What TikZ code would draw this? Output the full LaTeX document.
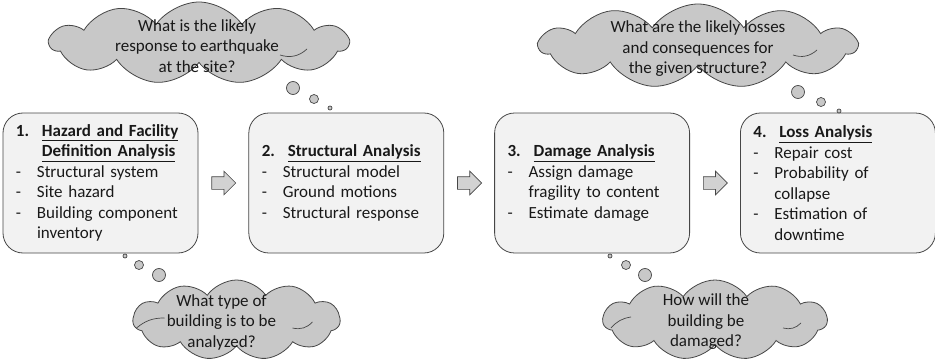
\documentclass[tikz,border=0pt]{standalone}
\usepackage{fontspec}
\setmainfont{Carlito}
\usepackage{tikz}
\usetikzlibrary{shapes.symbols,shapes.arrows,positioning}

\definecolor{boxfill}{RGB}{242,242,242}
\definecolor{cloudfill}{RGB}{200,200,200}
\definecolor{edgegray}{RGB}{70,70,70}
\definecolor{arrowfill}{RGB}{210,210,210}
\definecolor{inkgray}{RGB}{25,25,25}

% heading and list lines inside the stage boxes
\newcommand{\stagehead}[2]{\makebox[26pt][l]{\textbf{#1}}\underline{\textbf{#2}}}
\newcommand{\stagecont}[1]{\hspace*{26pt}\underline{\textbf{#1}}}
\newcommand{\dashitem}[1]{\makebox[21pt][l]{-}#1}
\newcommand{\dashcont}[1]{\hspace*{21pt}#1}

\begin{document}
\begin{tikzpicture}[
        x=1pt, y=-1pt,
        node distance=50pt,
        font=\fontsize{17}{20.5}\selectfont, text=inkgray,
        stage/.style={rectangle, rounded corners=20pt, draw=edgegray, fill=boxfill, line width=0.8pt, minimum width=195pt, minimum height=140pt, text width=169pt, inner xsep=13pt, align=left},
        thought/.style={cloud, cloud puffs=11, cloud puff arc=110, cloud ignores aspect, draw=edgegray, fill=cloudfill, line width=0.8pt, inner sep=0pt},
        qtext/.style={align=center, text=inkgray},
        fold/.style={draw=edgegray, line width=0.7pt},
        bubble/.style={circle, draw=edgegray, fill=cloudfill, line width=0.7pt, inner sep=0pt},
        flow/.style={single arrow, draw=edgegray, fill=arrowfill, line width=0.7pt, minimum height=24pt, single arrow head extend=5.5pt, inner sep=6pt}
    ]
        \useasboundingbox (0,0) rectangle (935,361);

        \node[stage] (hazard) at (100.5,183) {\stagehead{1.}{Hazard and Facility}\\ \stagecont{Definition Analysis}\\ \dashitem{Structural system}\\ \dashitem{Site hazard}\\ \dashitem{Building component}\\ \dashcont{inventory}};
        \node[stage, right=of hazard] (structural) {\stagehead{2.}{Structural Analysis}\\ \dashitem{Structural model}\\ \dashitem{Ground motions}\\ \dashitem{Structural response}};
        \node[stage, right=of structural] (damage) {\stagehead{3.}{Damage Analysis}\\ \dashitem{Assign damage}\\ \dashcont{fragility to content}\\ \dashitem{Estimate damage}};
        \node[stage, right=of damage] (loss) {\stagehead{4.}{Loss Analysis}\\ \dashitem{Repair cost}\\ \dashitem{Probability of}\\ \dashcont{collapse}\\ \dashitem{Estimation of}\\ \dashcont{downtime}};

        \node[flow, right=13pt of hazard] (go1) {};
        \node[flow, right=13pt of structural] (go2) {};
        \node[flow, right=13pt of damage] (go3) {};

        \node[thought, minimum width=298pt, minimum height=82pt, label={[qtext, xshift=-2pt, yshift=-3pt]center:What is the likely\\response to earthquake\\at the site?}] (qsite) at (199,43) {};
        \node[thought, minimum width=317pt, minimum height=84pt, label={[qtext, yshift=-3pt]center:What are the likely losses\\and consequences for\\the given structure?}] (qloss) at (698,46) {};
        \node[thought, minimum width=207pt, minimum height=80pt, label={[qtext, xshift=-15pt, yshift=-2pt]center:What type of\\building is to be\\analyzed?}] (qtype) at (236.5,320) {};
        \node[thought, minimum width=224pt, minimum height=80pt, label={[qtext, xshift=-9pt, yshift=-2pt]center:How will the\\building be\\damaged?}] (qdamage) at (715,320) {};

        % inner folds of the clouds
        \foreach \cn/\ax/\ay/\bx/\by in {qsite/81/12/108/6, qloss/95/9/119/4, qtype/56/8/76/2, qdamage/68/8/86/3}
            \draw[fold] ([shift={(\ax,\ay)}]\cn.center) to[bend right=30] ([shift={(\bx,\by)}]\cn.center);
        \foreach \cn/\ax/\ay/\bx/\by in {qtype/-100/8/-72/-2, qdamage/-104/8/-84/-3}
            \draw[fold] ([shift={(\ax,\ay)}]\cn.center) to[bend left=20] ([shift={(\bx,\by)}]\cn.center);

        % thought bubbles
        \foreach \bx/\by/\bd in {293/88/13, 314/99/9, 330/108/4,
                                  798/92/13, 821/102/9, 839/111/4,
                                  125/256/4, 139/265/9, 159/275/13,
                                  610/256/4, 626/265/9, 645/275/13}
            \node[bubble, minimum size=\bd pt] at (\bx,\by) {};
    \end{tikzpicture}
\end{document}
